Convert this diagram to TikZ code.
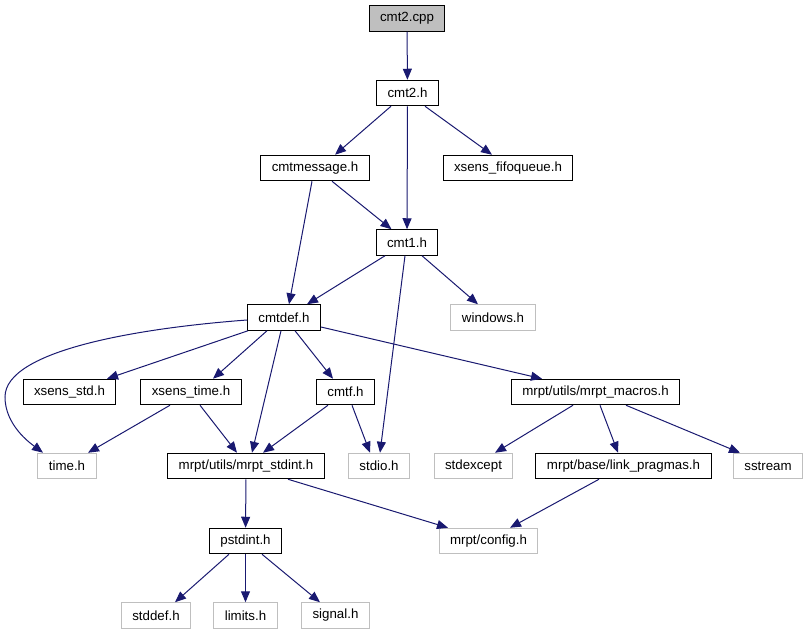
\documentclass[tikz,border=0pt]{standalone}
\usepackage{fontspec}
\setmainfont{Liberation Sans}
\usetikzlibrary{arrows.meta,positioning}
\definecolor{edgeblue}{HTML}{191970}
\definecolor{missgray}{HTML}{BFBFBF}

\begin{document}
\begin{tikzpicture}[x = 1pt, y = -1pt,
  file/.style = {draw, line width=1pt, minimum height=25.5pt, inner xsep=11pt, inner ysep=0pt, font=\fontsize{13.3}{16}\selectfont},
  sys/.style = {file, draw=missgray},
  inc/.style = {-{Triangle[length=11pt,width=9pt]}, draw=edgeblue, fill=none, line width=1pt}]
\useasboundingbox (0,0) rectangle (809,635);

\node[file, fill=missgray] (cpp) at (407,18.5) {cmt2.cpp};
\node[file] (cmt2h) at (407.5,93) {cmt2.h};
\node[file] (cmtmsg) at (315,168) {cmtmessage.h};
\node[file] (fifo) at (508,168) {xsens\_fifoqueue.h};
\node[file] (cmt1h) at (407,242.5) {cmt1.h};
\node[file] (cmtdef) at (284,317.5) {cmtdef.h};
\node[sys] (windows) at (493,317.5) {windows.h};
\node[file] (xstd) at (69.5,392) {xsens\_std.h};
\node[file] (xtime) at (191,392) {xsens\_time.h};
\node[file] (cmtf) at (345.5,392) {cmtf.h};
\node[file] (macros) at (595.5,392) {mrpt/utils/mrpt\_macros.h};
\node[sys] (timeh) at (67,466) {time.h};
\node[file] (stdint) at (246,466) {mrpt/utils/mrpt\_stdint.h};
\node[sys] (stdio) at (379,466) {stdio.h};
\node[sys] (stdexcept) at (473.5,466) {stdexcept};
\node[file] (pragmas) at (623.5,466) {mrpt/base/link\_pragmas.h};
\node[sys] (sstream) at (768,466) {sstream};
\node[file] (pstdint) at (245.5,541) {pstdint.h};
\node[sys] (config) at (488.5,541) {mrpt/config.h};
\node[sys] (stddef) at (156,615.5) {stddef.h};
\node[sys] (limits) at (245.5,615.5) {limits.h};
\node[sys] (signal) at (335.5,615.5) {signal.h};

\draw[inc] (cpp) -- (cmt2h);
\draw[inc] ([xshift=-16.5pt]cmt2h.south) -- ([xshift=20pt]cmtmsg.north);
\draw[inc] (cmt2h) -- (cmt1h);
\draw[inc] ([xshift=17.5pt]cmt2h.south) -- ([xshift=-16pt]fifo.north);
\draw[inc] ([xshift=17pt]cmtmsg.south) -- ([xshift=-15.5pt]cmt1h.north);
\draw[inc] ([xshift=-3pt]cmtmsg.south) -- ([xshift=5pt]cmtdef.north);
\draw[inc] ([xshift=-22pt]cmt1h.south) -- ([xshift=23pt]cmtdef.north);
\draw[inc] ([xshift=15pt]cmt1h.south) -- ([xshift=-15pt]windows.north);
\draw[inc] ([xshift=-2pt]cmt1h.south) -- ([xshift=1pt]stdio.north);

\draw[inc] ([yshift=-2.5pt]cmtdef.west) .. controls (140,328) and (5,350) .. (5,397)
  .. controls (5,425) and (30,443) .. ([xshift=-24pt]timeh.north);
\draw[inc] ([xshift=1pt]cmtdef.south west) -- ([xshift=37.5pt]xstd.north);
\draw[inc] ([xshift=-17pt]cmtdef.south) -- ([xshift=22pt]xtime.north);
\draw[inc] ([xshift=-3pt]cmtdef.south) -- ([xshift=6pt]stdint.north);
\draw[inc] ([xshift=11pt]cmtdef.south) -- ([xshift=-12.5pt]cmtf.north);
\draw[inc] ([yshift=-9.5pt]cmtdef.east) -- ([xshift=-53.5pt]macros.north);

\draw[inc] ([xshift=-21pt]xtime.south) -- ([xshift=21pt]timeh.north);
\draw[inc] ([xshift=9pt]xtime.south) -- ([xshift=-9pt]stdint.north);
\draw[inc] ([xshift=-17.5pt]cmtf.south) -- ([xshift=17pt]stdint.north);
\draw[inc] ([xshift=6.5pt]cmtf.south) -- ([xshift=-9pt]stdio.north);

\draw[inc] ([xshift=-22.5pt]macros.south) -- ([xshift=21.5pt]stdexcept.north);
\draw[inc] ([xshift=4.5pt]macros.south) -- ([xshift=-5.5pt]pragmas.north);
\draw[inc] ([xshift=30.5pt]macros.south) -- ([xshift=-28pt]sstream.north);

\draw[inc] (stdint) -- (pstdint);
\draw[inc] ([xshift=42pt]stdint.south) -- ([xshift=-40.5pt]config.north);
\draw[inc] ([xshift=-24.5pt]pragmas.south) -- ([xshift=21.5pt]config.north);

\draw[inc] ([xshift=-16.5pt]pstdint.south) -- ([xshift=19pt]stddef.north);
\draw[inc] (pstdint) -- (limits);
\draw[inc] ([xshift=16.5pt]pstdint.south) -- ([xshift=-15.5pt]signal.north);

\end{tikzpicture}
\end{document}
